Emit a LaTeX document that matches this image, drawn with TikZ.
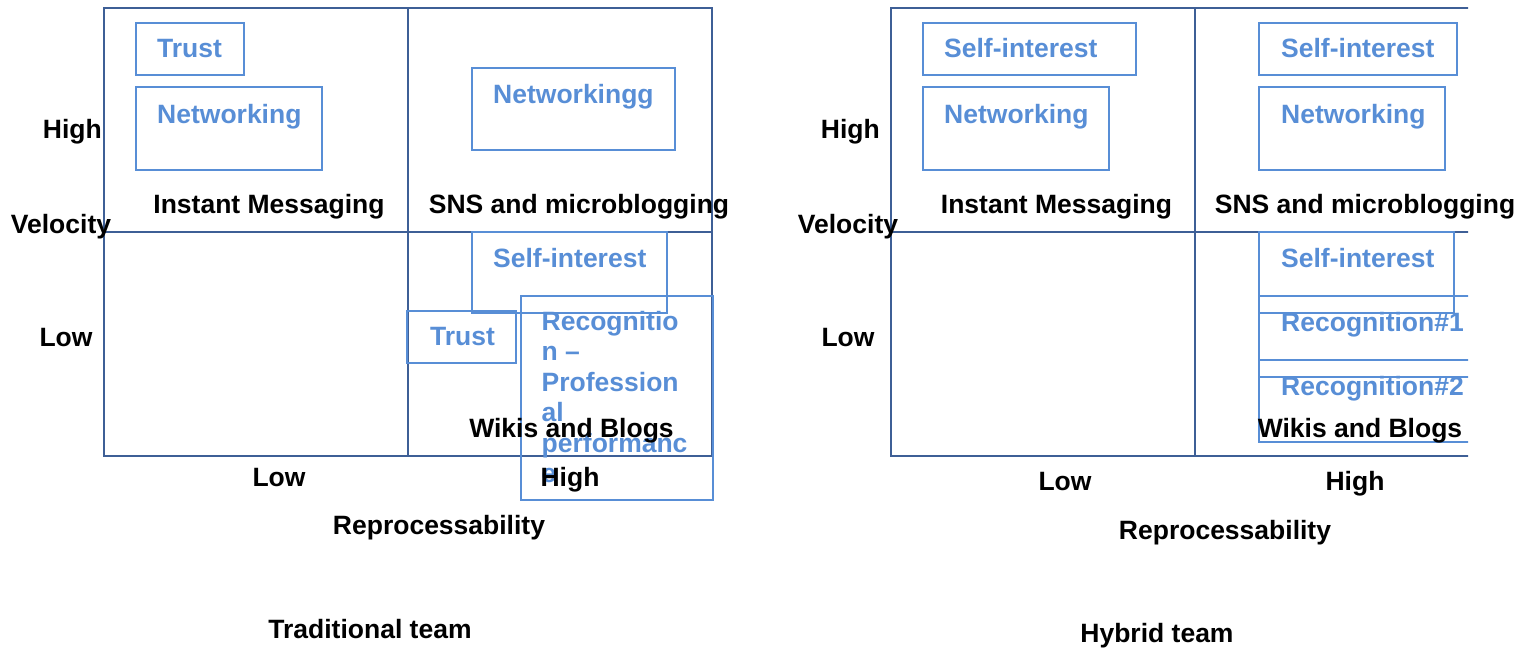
\documentclass[tikz,border=0pt]{standalone}
\usepackage{fontspec}
\setmainfont{Liberation Sans}
\usetikzlibrary{calc}
\definecolor{gridblue}{RGB}{62,95,150}
\definecolor{boxblue}{RGB}{88,142,214}
\tikzset{
    grid line/.style={draw=gridblue, line width=1.4pt},
    factor box/.style={draw=boxblue, line width=2pt},
    factor/.style={text=boxblue, font=\bfseries\fontsize{26.5}{30.5}\selectfont, inner sep=0pt, anchor=base west},
    lbl/.style={text=black, font=\bfseries\fontsize{26.5}{30.5}\selectfont, inner sep=0pt, anchor=base},
  }
\begin{document}
\begin{tikzpicture}[x=1pt,y=-1pt]
				  %pixel coordinates, y going down
				  \useasboundingbox (0,0) rectangle (1516,649);
				  %traditional team
				  \coordinate(TA) at (104,8);
				  \coordinate(TB) at (712,456);
				  \coordinate(TM) at (408,232);
				  \draw[grid line] (TA) rectangle (TB);
				  \draw[grid line] (TA -| TM) -- (TB -| TM) (TA |- TM) -- (TB |- TM);
				  
				  \draw[factor box] (136,23) rectangle (244,75);
				  \draw[factor box] (136,87) rectangle (322,170);
				  \draw[factor box] (472,68) rectangle (675,150);
				  \draw[factor box] (472,232) rectangle (667,313);
				  \draw[factor box] (407,311) rectangle (516,363);
				  \draw[factor box] (521,296) rectangle (713,500);
				  
				  \node[factor] (t-trust) at (157,57) {Trust};
				  \node[factor] (t-net) at (157,123) {Networking};
				  \node[factor] (t-netg) at (493,103) {Networkingg};
				  \node[factor] (t-self) at (493,267) {Self-interest};
				  \node[factor] (t-trust2) at (430,345) {Trust};
				  \foreach \txt [count=\i] in {Recognitio, n –, Profession, al, performanc, e}
				    \node[factor] (t-rec\i) at (541.5,{330+30.5*(\i-1)}) {\txt};
				  
				  \node[lbl] (t-im) at (269,213) {Instant Messaging};
				  \node[lbl] (t-sns) at (579,213) {SNS and microblogging};
				  \node[lbl] (t-wiki) at (571.5,437) {Wikis and Blogs};
				  \node[lbl, anchor=base east] (t-vhigh) at (102,138) {High};
				  \node[lbl] (t-vel) at (61,233) {Velocity};
				  \node[lbl] (t-vlow) at (66,346) {Low};
				  \node[lbl] (t-rlow) at (279,486) {Low};
				  \node[lbl] (t-rhigh) at (570,486) {High};
				  \node[lbl] (t-rep) at (439,534) {Reprocessability};
				  \node[lbl] (t-title) at (370,638) {Traditional team};
				  
				  %hybrid team
				  \coordinate(HA) at (891,8);
				  \coordinate(HB) at (1499,456);
				  \coordinate(HM) at (1195,232);
				  \begin{scope}
				  \clip (880,0) rectangle (1468,649);
				  \draw[grid line] (HA) rectangle (HB);
				  \draw[grid line] (HA -| HM) -- (HB -| HM) (HA |- HM) -- (HB |- HM);
				  
				  \draw[factor box] (923,23) rectangle (1136,75);
				  \draw[factor box] (923,87) rectangle (1109,170);
				  \draw[factor box] (1259,23) rectangle (1457,75);
				  \draw[factor box] (1259,87) rectangle (1445,170);
				  \draw[factor box] (1259,232) rectangle (1454,313);
				  \draw[factor box] (1259,296) rectangle (1490,377);
				  \draw[factor box] (1259,360) rectangle (1490,442);
				  \end{scope}
				  
				  \node[factor] (h-self) at (944,57) {Self-interest};
				  \node[factor] (h-net) at (944,123) {Networking};
				  \node[factor] (h-self2) at (1281,57) {Self-interest};
				  \node[factor] (h-net2) at (1281,123) {Networking};
				  \node[factor] (h-self3) at (1281,267) {Self-interest};
				  \node[factor] (h-rec1) at (1281,331) {Recognition\#1};
				  \node[factor] (h-rec2) at (1281,395) {Recognition\#2};
				  
				  \node[lbl] (h-im) at (1056.5,213) {Instant Messaging};
				  \node[lbl] (h-sns) at (1365,213) {SNS and microblogging};
				  \node[lbl] (h-wiki) at (1360,437) {Wikis and Blogs};
				  \node[lbl, anchor=base east] (h-vhigh) at (880,138) {High};
				  \node[lbl] (h-vel) at (848,233) {Velocity};
				  \node[lbl] (h-vlow) at (848,346) {Low};
				  \node[lbl] (h-rlow) at (1065,490) {Low};
				  \node[lbl] (h-rhigh) at (1355,490) {High};
				  \node[lbl] (h-rep) at (1225,539) {Reprocessability};
				  \node[lbl] (h-title) at (1157,642) {Hybrid team};
				  \end{tikzpicture}
\end{document}
